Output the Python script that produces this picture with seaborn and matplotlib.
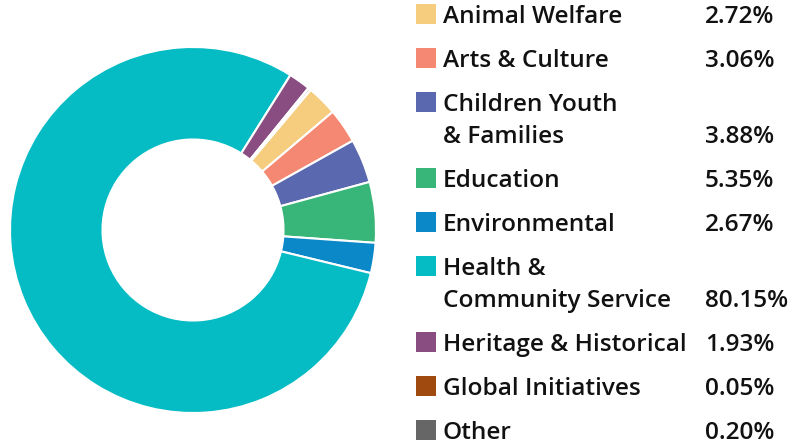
import matplotlib
matplotlib.use("Agg")
import matplotlib.pyplot as plt
from matplotlib.patches import Rectangle
import seaborn as sns

# ========== data ==========
categories = ["Animal Welfare", "Arts & Culture", "Children Youth\n& Families",
              "Education", "Environmental", "Health &\nCommunity Service",
              "Heritage & Historical", "Global Initiatives", "Other"]
shares = [2.72, 3.06, 3.88, 5.35, 2.67, 80.15, 1.93, 0.05, 0.20]
share_labels = ["2.72%", "3.06%", "3.88%", "5.35%", "2.67%", "80.15%", "1.93%", "0.05%", "0.20%"]
colors = ["#F6CD7E", "#F58872", "#5A68B0", "#38B67A", "#0B88C8",
          "#06BCC4", "#8A4D82", "#A04A10", "#666666"]

sns.set_theme(style="white")
plt.rcParams["font.family"] = ["Open Sans", "DejaVu Sans"]

W, H = 802, 443
fig = plt.figure(figsize=(W / 100, H / 100), dpi=100)

# ========== donut ==========
cx, cy, r = 193, 230, 185
ax = fig.add_axes([(cx - r) / W, (H - cy - r) / H, 2 * r / W, 2 * r / H])
ax.pie(shares, colors=sns.color_palette(colors), startangle=50, counterclock=False,
       radius=183 / 185,
       wedgeprops=dict(width=0.5, edgecolor="white", linewidth=1.5))
ax.set_xlim(-1, 1)
ax.set_ylim(-1, 1)
ax.set_aspect("equal")
ax.axis("off")

# ========== legend (hand-drawn) ==========
base = 23.3
for cat, lab, col in zip(categories, share_labels, colors):
    lines = cat.split("\n")
    fig.patches.append(Rectangle((416 / W, (H - base - 1) / H), 20 / W, 20 / H,
                                 transform=fig.transFigure, facecolor=col,
                                 edgecolor="none"))
    for i, line in enumerate(lines):
        fig.text(443 / W, (H - base) / H, line, fontsize=17.6, fontweight="semibold",
                 color="#111111", va="baseline", ha="left")
        if i < len(lines) - 1:
            base += 31.7
    fig.text(705 / W, (H - base) / H, lab, fontsize=17.6, fontweight="semibold",
             color="#111111", va="baseline", ha="left")
    base += 44

fig.savefig("out.png", dpi=100, facecolor="white")
